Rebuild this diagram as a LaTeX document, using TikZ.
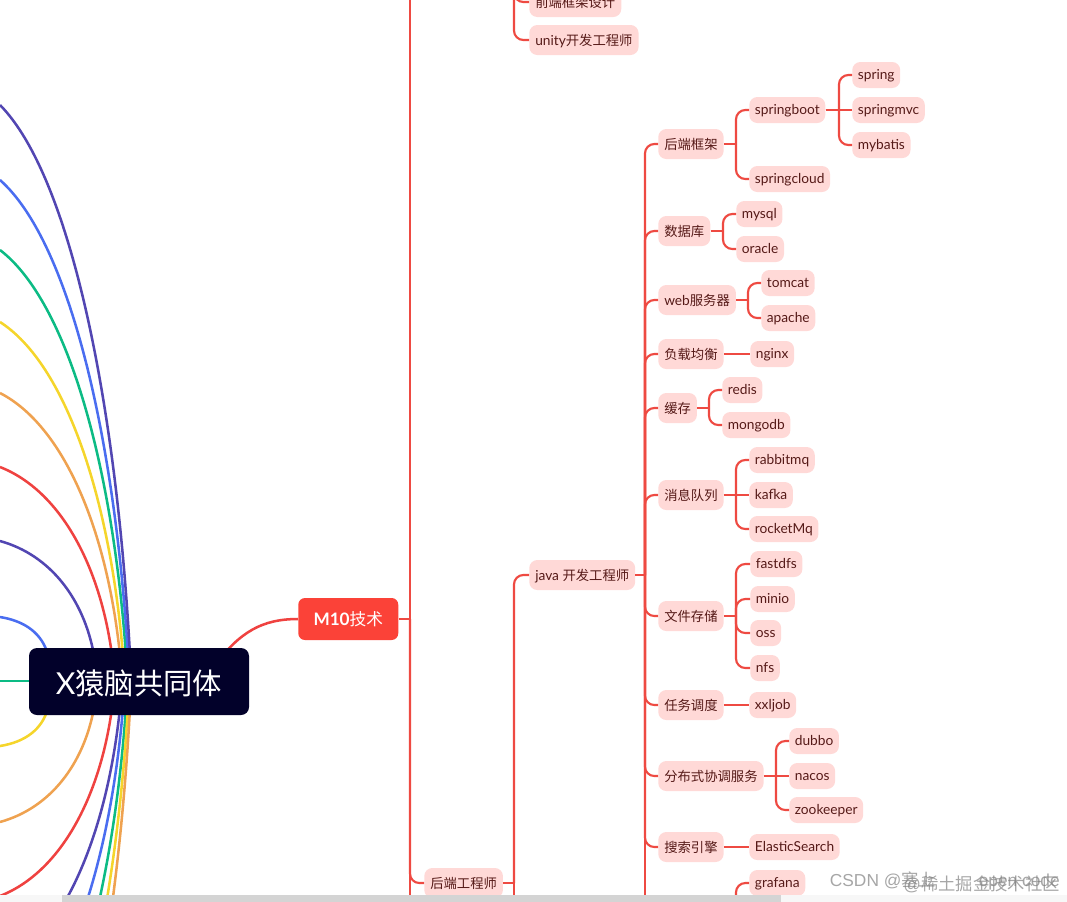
\documentclass[tikz,border=0pt]{standalone}
\usepackage{fontspec}
\setmainfont[Scale=1.03]{Lato}
\newfontfamily\cjk{Noto Sans CJK SC}
\newfontfamily\wm{Liberation Sans}
\usetikzlibrary{arrows,shapes}
\definecolor{pillred}{HTML}{FFD9D7}
\definecolor{inkred}{HTML}{561A18}
\definecolor{linkred}{HTML}{EE4A42}
\definecolor{topred}{HTML}{FB4238}
\definecolor{rootnavy}{HTML}{02012A}
\definecolor{cpurple}{HTML}{5246B2}
\definecolor{cblue}{HTML}{4A6DF0}
\definecolor{cgreen}{HTML}{0CBB84}
\definecolor{cyellow}{HTML}{F5D52B}
\definecolor{corange}{HTML}{EFA250}
\definecolor{cred}{HTML}{EF4240}
\newcommand{\zh}[1]{{\cjk #1}}
% stub out of the parent, then one rounded elbow per child
\newcommand{\branch}[3]{
  \draw[link] (#1.east) -- (#2,0 |- #1.east);
  \foreach \kid in {#3}
    \draw[link,rounded corners=7pt] (#2,0 |- #1.east) |- (\kid.west);
}
\begin{document}
\begin{tikzpicture}[x=0.75pt,y=-0.75pt]
    \tikzstyle{link}=[linkred,line width=1.6pt]
    \tikzstyle{limb}=[line width=1.9pt]
    \tikzstyle{pill}=[rectangle,anchor=west,rounded corners=6pt,fill=pillred,text=inkred,font=\fontsize{10}{12}\selectfont,inner xsep=4.2pt,inner ysep=0pt,minimum height=19.5pt,text height=8.4pt,text depth=1.2pt]
    \tikzstyle{pillzh}=[pill,inner xsep=4.5pt,minimum height=22.5pt,text height=8.5pt,text depth=1pt]
    \tikzstyle{topic}=[rectangle,anchor=west,rounded corners=5pt,fill=topred,text=white,font=\fontsize{12.5}{15}\selectfont,minimum width=75pt,minimum height=31.5pt,inner sep=0pt]
    \tikzstyle{rootbox}=[rectangle,rounded corners=6pt,fill=rootnavy,text=white,font=\fontsize{22}{26}\selectfont,minimum width=165pt,minimum height=50.25pt,inner sep=0pt,text height=23pt,text depth=3.2pt]
    \tikzstyle{stamp}=[text=black!50,opacity=0.7,anchor=east,inner sep=0pt,font=\fontsize{13}{15}\selectfont\wm]
    \useasboundingbox (0,0) rectangle (1067,901);
    \clip (-5,-5) rectangle (1072,906);

    \foreach \i/\yy/\xt/\colup/\coldown in {1/617/47/cblue/cyellow,2/541/93/cpurple/corange,3/467/111/cred/cred,4/393/119/corange/cpurple,5/322/122/cyellow/cblue,6/250/125/cgreen/cgreen,7/180/127/cblue/cyellow,8/105/129/cpurple/corange}{
      \coordinate (up\i) at (0,\yy);
      \coordinate (down\i) at (0,1363-\yy);
      \coordinate (uproot\i) at (\xt+1,655);
      \coordinate (downroot\i) at (\xt+1,708);
      \draw[limb,\colup] (up\i) .. controls (0.54*\xt,\yy+0.13*648-0.13*\yy) and (0.9*\xt,\yy+0.54*648-0.54*\yy) .. (uproot\i);
      \draw[limb,\coldown] (down\i) .. controls (0.54*\xt,1363-\yy-0.13*648+0.13*\yy) and (0.9*\xt,1363-\yy-0.54*648+0.54*\yy) .. (downroot\i);
    }
    \coordinate (leftend) at (0,681);
    \coordinate (rootright) at (215,665);
    \draw[limb,cgreen] (leftend) -- (60,681);

    \node[topic] (m10) at (298,619) {{\bfseries M10}\zh{技术}};
    \draw[limb,cred] (m10.west) .. controls (262,619) and (240,632) .. (rootright);
    \node[rootbox] (root) at (139,681.5) {X\zh{猿脑共同体}};

    \node[pillzh] (qianduan) at (529,2) {\zh{前端框架设计}};
    \node[pillzh] (unity) at (529,40) {unity\zh{开发工程师}};
    \node[pillzh] (houduan) at (424,883) {\zh{后端工程师}};
    \node[pillzh] (java) at (529,575) {java \zh{开发工程师}};

    \node[pillzh] (kuangjia) at (658,144) {\zh{后端框架}};
    \node[pill] (springboot) at (749,110) {springboot};
    \node[pill] (springcloud) at (749,179) {springcloud};
    \node[pill] (spring) at (852,75) {spring};
    \node[pill] (springmvc) at (852,110) {springmvc};
    \node[pill] (mybatis) at (852,145) {mybatis};

    \node[pillzh] (shujuku) at (658,231) {\zh{数据库}};
    \node[pill] (mysql) at (736,214) {mysql};
    \node[pill] (oracle) at (736,249) {oracle};

    \node[pillzh] (webfuwu) at (658,300) {web\zh{服务器}};
    \node[pill] (tomcat) at (761,283) {tomcat};
    \node[pill] (apache) at (761,318) {apache};

    \node[pillzh] (fuzai) at (658,354) {\zh{负载均衡}};
    \node[pill] (nginx) at (750,354) {nginx};

    \node[pillzh] (huancun) at (658,408) {\zh{缓存}};
    \node[pill] (redis) at (722,390) {redis};
    \node[pill] (mongodb) at (722,425) {mongodb};

    \node[pillzh] (xiaoxi) at (658,495) {\zh{消息队列}};
    \node[pill] (rabbitmq) at (749,460) {rabbitmq};
    \node[pill] (kafka) at (749,495) {kafka};
    \node[pill] (rocketmq) at (749,529) {rocketMq};

    \node[pillzh] (cunchu) at (658,616) {\zh{文件存储}};
    \node[pill] (fastdfs) at (750,564) {fastdfs};
    \node[pill] (minio) at (750,599) {minio};
    \node[pill] (oss) at (750,633) {oss};
    \node[pill] (nfs) at (750,668) {nfs};

    \node[pillzh] (tiaodu) at (658,705) {\zh{任务调度}};
    \node[pill] (xxljob) at (749,705) {xxljob};

    \node[pillzh] (xietiao) at (658,776) {\zh{分布式协调服务}};
    \node[pill] (dubbo) at (789,741) {dubbo};
    \node[pill] (nacos) at (789,776) {nacos};
    \node[pill] (zookeeper) at (789,810) {zookeeper};

    \node[pillzh] (sousuo) at (658,847) {\zh{搜索引擎}};
    \node[pill] (elastic) at (749,847) {ElasticSearch};

    \node[pill] (grafana) at (749,883) {grafana};

    \coordinate (topleft) at (410,-40);
    \coordinate (bottomleft) at (410,940);
    \coordinate (upper) at (514,-40);
    \coordinate (bottomjava) at (514,940);
    \coordinate (bottomkids) at (645,940);
    \coordinate (monitor) at (736,940);

    \draw[link] (m10.east) -- (410,619);
    \draw[link] (topleft) -- (bottomleft);
    \draw[link,rounded corners=7pt] (410,619) |- (houduan.west);

    \draw[link,rounded corners=7pt] (upper) |- (qianduan.west);
    \draw[link,rounded corners=7pt] (upper) |- (unity.west);

    \draw[link] (houduan.east) -- (514,883);
    \draw[link,rounded corners=7pt] (514,883) |- (java.west);
    \draw[link] (514,883) -- (bottomjava);

    \branch{java}{645}{kuangjia,shujuku,webfuwu,fuzai,huancun,xiaoxi,cunchu,tiaodu,xietiao,sousuo}
    \draw[link] (645,575) -- (bottomkids);

    \branch{kuangjia}{736}{springboot,springcloud}
    \branch{springboot}{839}{spring,mybatis}
    \draw[link] (springboot.east) -- (springmvc.west);
    \branch{shujuku}{723}{mysql,oracle}
    \branch{webfuwu}{748}{tomcat,apache}
    \draw[link] (fuzai.east) -- (nginx.west);
    \branch{huancun}{709}{redis,mongodb}
    \branch{xiaoxi}{736}{rabbitmq,rocketmq}
    \draw[link] (xiaoxi.east) -- (kafka.west);
    \branch{cunchu}{736}{fastdfs,minio,oss,nfs}
    \draw[link] (tiaodu.east) -- (xxljob.west);
    \branch{xietiao}{776}{dubbo,zookeeper}
    \draw[link] (xietiao.east) -- (nacos.west);
    \draw[link] (sousuo.east) -- (elastic.west);
    \draw[link,rounded corners=7pt] (monitor) |- (grafana.west);

    \fill[black!3] (-5,895) rectangle (1072,906);
    \fill[black!17] (62,895) rectangle (781,906);

    \node[stamp] (csdn) at (1060,881) {CSDN @\zh{塞上}\hspace{32pt}open code};
    \node[stamp] (xitu) at (1060,884) {@\zh{稀土掘金技术社区}};
\end{tikzpicture}
\end{document}
